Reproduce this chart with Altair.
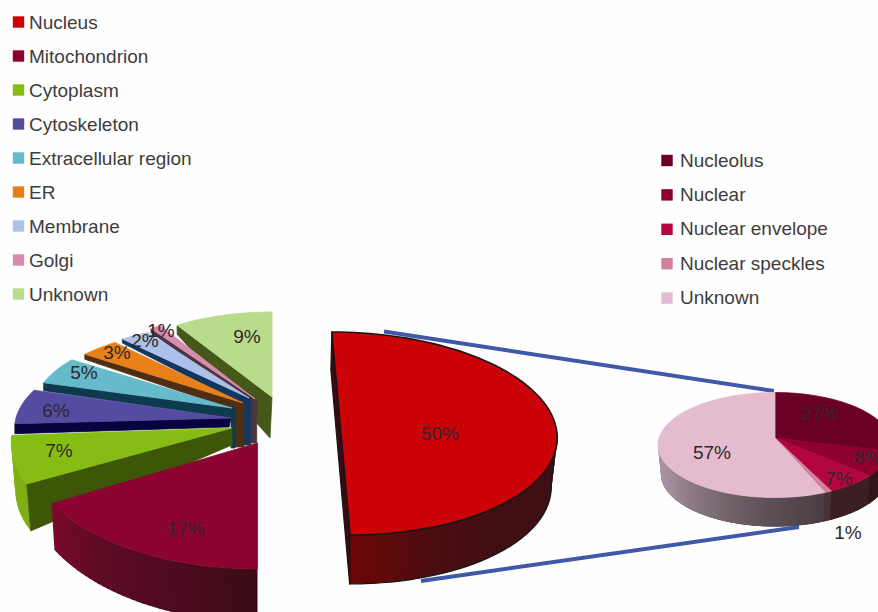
import math
import altair as alt

# Subcellular localisation shares (percent), whole cell
CELL_NAMES = ["Nucleus", "Mitochondrion", "Cytoplasm", "Cytoskeleton", "Extracellular region",
              "ER", "Membrane", "Golgi", "Unknown"]
CELL_SHARES = [50, 17, 7, 6, 5, 3, 2, 1, 9]
CELL_COLORS = ["#cc0209", "#8c0431", "#85bd14", "#534ca0", "#66bac9",
               "#e8801a", "#adc0ea", "#d88bb0", "#b8dc8c"]
CELL_WALLS = ["#3c0f14", "#5c0b24", "#3e5608", "#07033f", "#0d3a4c",
              "#4f2f14", "#12375f", "#4d3540", "#46571a"]

# Breakdown of the nuclear slice (percent)
NUC_NAMES = ["Nucleolus", "Nuclear", "Nuclear envelope", "Nuclear speckles", "Unknown"]
NUC_SHARES = [27, 8, 7, 1, 57]
NUC_COLORS = ["#6b0026", "#8f002f", "#b30640", "#d3809c", "#e5bccf"]
NUC_WALLS = ["#2a1014", "#33141a", "#3a1f25", "#4a3236", "#a58e9b"]

# Layout of the exploded slices: apex, radii, shear, wall thickness, inner strip
CELL_GEOM = [
    dict(ax=341, ay=433.5, rx=216, ry=101.5, k=0.09),
    dict(ax=257.5, ay=443, rx=235, ry=126, k=0.0),
    dict(ax=232, ay=428, rx=219, ry=116, k=-0.238),
    dict(ax=231, ay=418, rx=215, ry=90, k=-0.27, d=10, di=9),
    dict(ax=232, ay=408, rx=198, ry=82, k=0.0, d=8, di=10, sx0=231, sx1=235, sb=448),
    dict(ax=243, ay=403, rx=213, ry=83, k=-0.29, d=5, di=7, sx0=235, sx1=244, sb=447),
    dict(ax=249, ay=398, rx=229, ry=81, k=-0.51, d=4, di=7, sx0=244, sx1=250.7, sb=445),
    dict(ax=255, ay=399, rx=177, ry=87, k=0.0, d=4, di=4, sx0=250.7, sx1=256.7, sb=443),
    dict(ax=272, ay=397, rx=177, ry=85, k=0.0, d=9, di=41),
]
CELL_LABEL_X = [440, 186, 59, 56, 84, 117, 145, 161, 247]
CELL_LABEL_Y = [434, 529, 451, 411, 373, 353, 341, 331, 337]
NUC_LABEL_X = [820, 868, 839, 848, 712]
NUC_LABEL_Y = [414, 458, 479, 533, 453]


def hex2rgb(c):
    return [int(c[i:i + 2], 16) for i in (1, 3, 5)]


def ramp(stops, t):
    t = max(0.0, min(1.0, t)) * (len(stops) - 1)
    i = min(int(t), len(stops) - 2)
    a, b = hex2rgb(stops[i]), hex2rgb(stops[i + 1])
    f = t - i
    return "#%02x%02x%02x" % tuple(round(a[j] + (b[j] - a[j]) * f) for j in range(3))


def rim(g, deg, ox=0.0, oy=0.0, sx=1.0, sy=1.0):
    th = math.radians(deg)
    dy = -g["ry"] * sy * math.cos(th)
    return [g["ax"] + ox + sx * g["rx"] * math.sin(th) + g["k"] * dy, g["ay"] + oy + dy]


def poly(points, fill, stroke=None, width=0.8):
    ring = [list(p) for p in points] + [list(points[0])]
    return {"type": "Feature",
            "geometry": {"type": "Polygon", "coordinates": [ring]},
            "properties": {"fill": fill, "stroke": stroke or fill, "sw": width}}


def sector(g, a0, a1, fill, stroke=None, width=0.8):
    n = max(2, int((a1 - a0) / 2))
    arc = [rim(g, a0 + (a1 - a0) * i / n) for i in range(n + 1)]
    return poly([[g["ax"], g["ay"]]] + arc, fill, stroke, width)


def barrel(g, a0, a1, stops, lo, step=2.5):
    # Curved outer wall as narrow vertical bands shaded along the rim; each band
    # overlaps its neighbour a little so no seams show
    out = []
    n = max(1, int((a1 - a0) / step))
    for i in range(n):
        b0 = a0 + (a1 - a0) * i / n
        b1 = min(a1, a0 + (a1 - a0) * (i + 1.6) / n)
        out.append(poly([rim(g, b0), rim(g, b1), rim(g, b1, **lo), rim(g, b0, **lo)],
                        ramp(stops, (i + 0.5) / n), "transparent", 0))
    return out


cuts = [0.0]
for v in CELL_SHARES:
    cuts.append(cuts[-1] + v * 3.6)

features = []

# Whole-cell pie, back slices first
for i in [8, 7, 6, 5, 4, 3]:
    g = CELL_GEOM[i]
    a0, a1 = cuts[i], cuts[i + 1]
    p = rim(g, a0)
    apex = [g["ax"], g["ay"]]
    if "sx0" in g:
        wall = [p, [p[0], p[1] + g["d"]], [g["sx0"], g["ay"] + g["di"]], [g["sx0"], g["sb"]],
                [g["sx1"], g["sb"]], [g["sx1"], g["ay"]], apex]
    else:
        wall = [p, [p[0], p[1] + g["d"]], [g["ax"] - 2, g["ay"] + g["di"]], apex]
    features.append(poly(wall, CELL_WALLS[i]))
    features.append(sector(g, a0, a1, CELL_COLORS[i]))

# Cytoplasm: rim, radial wall, top
g = CELL_GEOM[2]
low = dict(ox=4, oy=47)
features += barrel(g, cuts[2], cuts[3], ["#7cae14", "#80b216"], low)
features.append(poly([rim(g, cuts[2]), rim(g, cuts[2], **low), [232, 445], [g["ax"], g["ay"]]], CELL_WALLS[2]))
features.append(sector(g, cuts[2], cuts[3], CELL_COLORS[2]))

# Mitochondrion: rim and top
g = CELL_GEOM[1]
features += barrel(g, cuts[1], cuts[2], ["#3a0c18", "#4e0b1f", "#5c0b24", "#7a0a2c"],
                   dict(oy=40, sx=0.986, sy=1.1), step=1.5)
features.append(sector(g, cuts[1], cuts[2], CELL_COLORS[1]))

# Nucleus, pulled out to the right
g = CELL_GEOM[0]
low = dict(oy=49, ox=-0.5, sx=0.975, sy=1.0)
top_pt, bot_pt = rim(g, 0), rim(g, 180)
features.append(poly([top_pt, [top_pt[0] - 1, top_pt[1] + 38], rim(g, 180, **low), bot_pt],
                     "#3a0a10", "#1c1414", 1.2))
features += barrel(g, 90, 180, ["#3d1116", "#3f0f14", "#3f0f14", "#4b0d10", "#6e0608"], low)
outer = [rim(g, 90 + i * 3) for i in range(31)] + [rim(g, 180 - i * 3, **low) for i in range(31)]
features.append(poly(outer, "transparent", "#1c1414", 1.2))
features.append(sector(g, 0, 180, CELL_COLORS[0], "#1c1414", 1.6))

# Nuclear breakdown pie: a solid backing keeps the wall bands free of slits
nuc = dict(ax=775, ay=445, rx=117, ry=52.5, k=0.0)
nuc_cuts = [0.0]
for v in NUC_SHARES:
    nuc_cuts.append(nuc_cuts[-1] + v * 3.6)
low = dict(oy=29, sx=0.975)
features.append(poly([rim(nuc, 90 + i * 4) for i in range(46)]
                     + [rim(nuc, 270 - i * 4, **low) for i in range(46)], "#3a2a30", None, 0))
for i in range(5):
    a0, a1 = max(nuc_cuts[i], 90), min(nuc_cuts[i + 1], 272)
    if a1 > a0:
        stops = ["#4b3d43", "#5f5058", "#7d6d75", "#a08b98", "#b7a0ad"] if i == 4 else [NUC_WALLS[i], NUC_WALLS[i]]
        features += barrel(nuc, a0, a1, stops, low)
for i in range(5):
    a0, a1 = nuc_cuts[i], nuc_cuts[i + 1]
    n = max(2, int((a1 - a0) / 2))
    arc = [rim(nuc, a0 + (a1 - a0) * j / n) for j in range(n + 1)]
    features.append(poly([[775, 438]] + arc, NUC_COLORS[i]))

# Pixel-space position scales shared by the text, swatch and connector layers
X_SCALE = alt.Scale(domain=[0, 878], range=[0, 878])
Y_SCALE = alt.Scale(domain=[0, 612], range=[0, 612])


def xy_enc(**kw):
    return dict(x=alt.X("x:Q", scale=X_SCALE, axis=None), y=alt.Y("y:Q", scale=Y_SCALE, axis=None), **kw)


connectors = alt.Chart(alt.Data(values=[
    {"x": 384, "y": 331.5, "x2": 774, "y2": 391},
    {"x": 421, "y": 581, "x2": 799, "y2": 527},
])).mark_rule(color="#3f58a8", strokeWidth=4).encode(
    x=alt.X("x:Q", scale=X_SCALE, axis=None), y=alt.Y("y:Q", scale=Y_SCALE, axis=None),
    x2="x2:Q", y2="y2:Q")

shapes = alt.Chart(alt.InlineData(values=features, format=alt.DataFormat(type="json"))).mark_geoshape(
    clip=True, strokeJoin="round"
).encode(
    fill=alt.Fill("properties.fill:N", scale=None),
    stroke=alt.Stroke("properties.stroke:N", scale=None),
    strokeWidth=alt.StrokeWidth("properties.sw:Q", scale=None),
).project(type="identity", scale=1, translate=[0, 0])

legend_rows = (
    [dict(name=n, color=c, x=18.5, y=22 + 34 * i, tx=29, ty=23 + 34 * i)
     for i, (n, c) in enumerate(zip(CELL_NAMES, CELL_COLORS))]
    + [dict(name=n, color=c, x=667, y=160.5 + 34.4 * i, tx=680, ty=160.5 + 34.4 * i)
       for i, (n, c) in enumerate(zip(NUC_NAMES, NUC_COLORS))]
)
swatches = alt.Chart(alt.Data(values=legend_rows)).mark_square(size=130, opacity=1, filled=True).encode(
    **xy_enc(color=alt.Color("color:N", scale=None)))
legend_text = alt.Chart(alt.Data(values=legend_rows)).mark_text(
    align="left", baseline="middle", font="Liberation Sans", fontSize=19, color="#3d3d3d"
).encode(
    x=alt.X("tx:Q", scale=X_SCALE, axis=None), y=alt.Y("ty:Q", scale=Y_SCALE, axis=None), text="name:N")

value_rows = (
    [dict(x=x, y=y, label=f"{v}%") for x, y, v in zip(CELL_LABEL_X, CELL_LABEL_Y, CELL_SHARES)]
    + [dict(x=x, y=y, label=f"{v}%") for x, y, v in zip(NUC_LABEL_X, NUC_LABEL_Y, NUC_SHARES)]
)
value_text = alt.Chart(alt.Data(values=value_rows)).mark_text(
    align="center", baseline="middle", font="Liberation Sans", fontSize=19, color="#30282c"
).encode(**xy_enc(text="label:N"))

chart = alt.layer(connectors, shapes, swatches, legend_text, value_text).properties(
    width=878, height=612, padding=0, autosize=alt.AutoSizeParams(type="none"), background="#fefefe"
).configure_view(stroke=None)

chart.save("out.html", embed_options={"renderer": "svg", "actions": False})
